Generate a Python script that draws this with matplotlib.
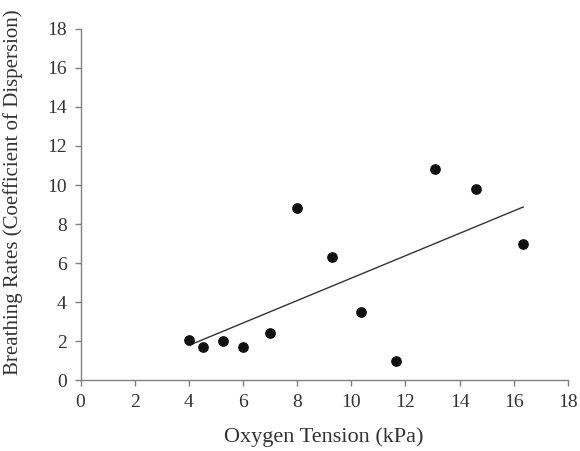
from matplotlib import pyplot as plt
import numpy as np

# oxygen tension (kPa) vs breathing rate coefficient of dispersion
oxygen = [4.0, 4.52, 5.25, 6.0, 7.0, 8.0, 9.27, 10.37, 11.66, 13.09, 14.6, 16.35]
breathing = [2.05, 1.7, 2.0, 1.7, 2.4, 8.8, 6.3, 3.5, 1.0, 10.8, 9.8, 7.0]
ticks = list(range(0, 19, 2))

plt.rcParams["font.family"] = ["Liberation Serif", "DejaVu Serif"]

fig = plt.figure(figsize=(5.8, 4.51), dpi=100)
ax = fig.add_axes([0.139, 0.157, 0.840, 0.779])

ax.scatter(oxygen, breathing, s=45, color="#111111", zorder=3)

# linear trend line over the data range
m, b = np.polyfit(oxygen, breathing, 1)
xs = np.array([min(oxygen), max(oxygen)])
ax.plot(xs, m * xs + b, color="#333333", lw=1.0)

ax.set_xlim(0, 18)
ax.set_ylim(0, 18)
ax.set_xticks(ticks)
ax.set_yticks(ticks)

for side in ["top", "right"]:
    ax.spines[side].set_visible(False)
for side in ["left", "bottom"]:
    ax.spines[side].set_color("#808080")
    ax.spines[side].set_linewidth(1.0)

ax.tick_params(direction="out", length=4, width=1, color="#808080",
               labelsize=14, labelcolor="#333333", pad=6)

ax.set_xlabel("Oxygen Tension (kPa)", fontsize=16, color="#333333", labelpad=12)
ax.set_ylabel("Breathing Rates (Coefficient of Dispersion)", fontsize=15,
              color="#333333")
ax.yaxis.set_label_coords(-0.118, 0.535)

fig.savefig("out.png", dpi=100)
